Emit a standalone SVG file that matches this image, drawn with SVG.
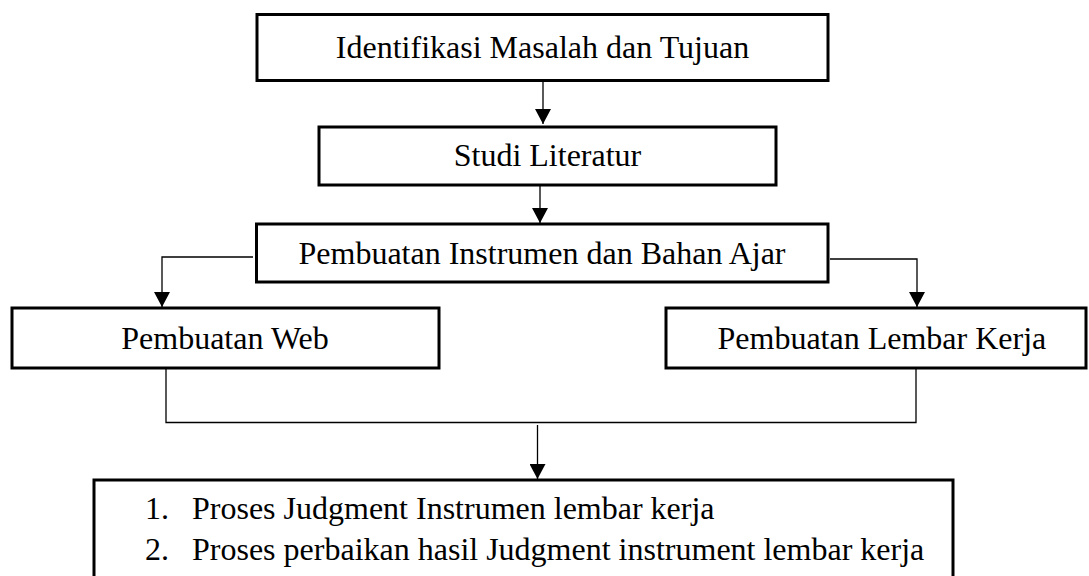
<svg xmlns="http://www.w3.org/2000/svg" width="1089" height="576" viewBox="0 0 1089 576">
<defs>
<style>
.box{fill:#fff;stroke:#000;stroke-width:3}
.t{font-family:"Liberation Serif","Times New Roman",serif;font-size:32px;fill:#000}
.c{fill:none;stroke:#000;stroke-width:1.3}
</style>
<marker id="ah" markerUnits="userSpaceOnUse" markerWidth="16" markerHeight="16" refX="15" refY="8" orient="auto">
<path d="M0,0 L15,8 L0,16 z" fill="#000"/>
</marker>
</defs>
<rect width="1089" height="576" fill="#fff"/>
<g id="connectors">
<line class="c" x1="543" y1="80" x2="543" y2="124" marker-end="url(#ah)"/>
<line class="c" x1="540" y1="180" x2="540" y2="223" marker-end="url(#ah)"/>
<polyline class="c" points="253,257 162,257 162,307" marker-end="url(#ah)"/>
<polyline class="c" points="830,259 917,259 917,307" marker-end="url(#ah)"/>
<polyline class="c" points="166,368 166,422.5 916,422.5 916,367"/>
<line class="c" x1="537.5" y1="425" x2="537.5" y2="479" marker-end="url(#ah)"/>
</g>
<g id="n1">
<rect class="box" x="257" y="14.5" width="571" height="66"/>
<text class="t" x="542.5" y="58" text-anchor="middle">Identifikasi Masalah dan Tujuan</text>
</g>
<g id="n2">
<rect class="box" x="319" y="127" width="457" height="58"/>
<text class="t" x="547.5" y="166" text-anchor="middle">Studi Literatur</text>
</g>
<g id="n3">
<rect class="box" x="256.5" y="224" width="571.5" height="58"/>
<text class="t" x="542" y="264" text-anchor="middle">Pembuatan Instrumen dan Bahan Ajar</text>
</g>
<g id="n4">
<rect class="box" x="12" y="308" width="427" height="60"/>
<text class="t" x="225" y="349" text-anchor="middle">Pembuatan Web</text>
</g>
<g id="n5">
<rect class="box" x="666" y="308" width="420" height="60"/>
<text class="t" x="717.5" y="349">Pembuatan Lembar Kerja</text>
</g>
<g id="n6">
<rect class="box" x="94" y="480" width="859" height="110"/>
<text class="t" x="145" y="519">1.</text>
<text class="t" x="192" y="519">Proses Judgment Instrumen lembar kerja</text>
<text class="t" x="145" y="560">2.</text>
<text class="t" x="192" y="560">Proses perbaikan hasil Judgment instrument lembar kerja</text>
</g>
</svg>
